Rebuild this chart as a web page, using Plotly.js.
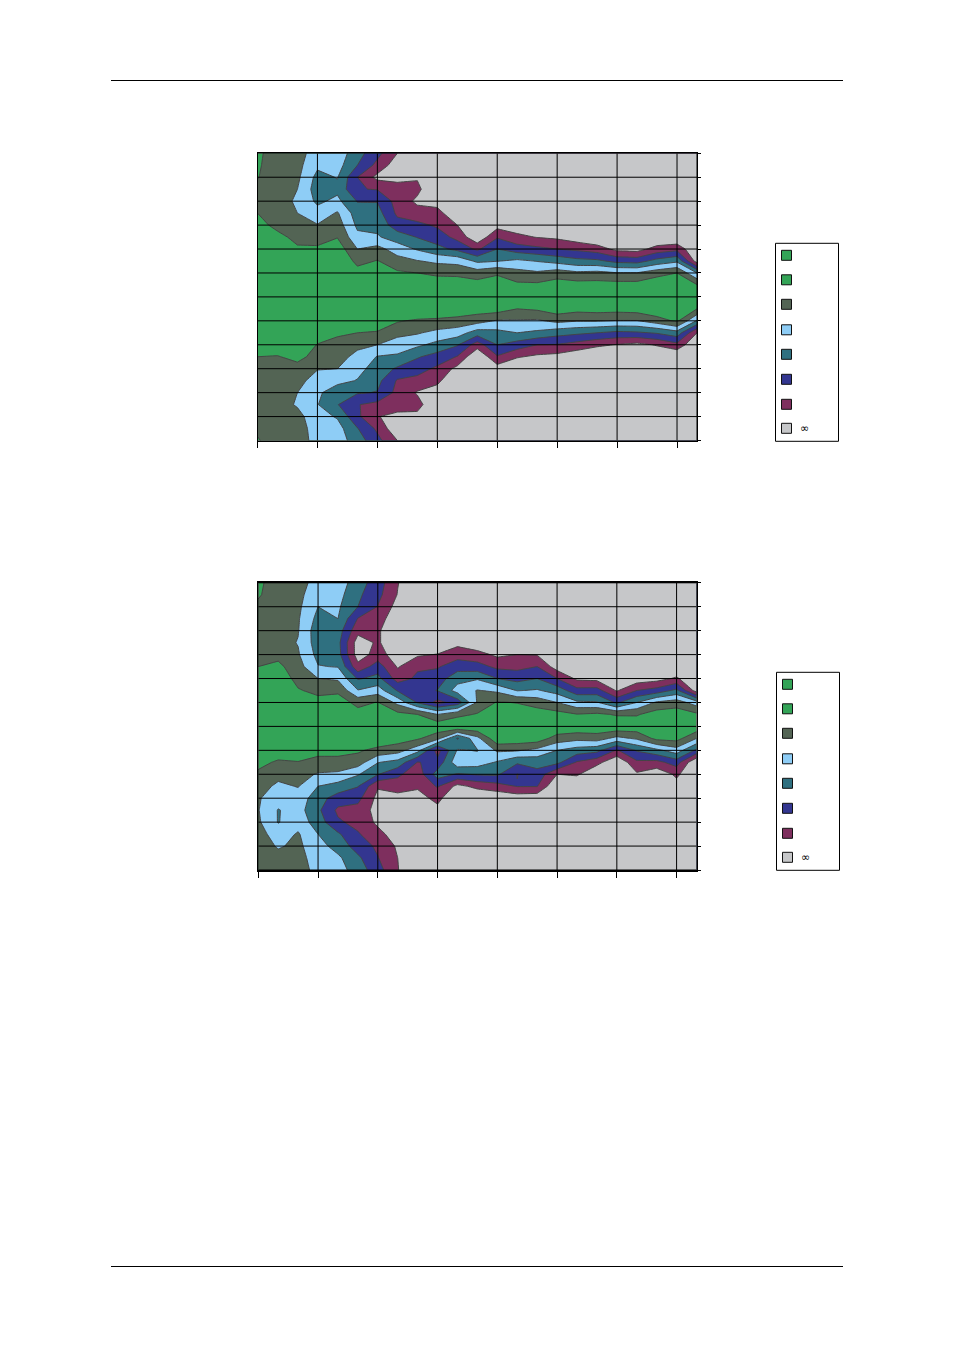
<!DOCTYPE html>
<html>
<head>
<meta charset="utf-8">
<script src="https://cdn.plot.ly/plotly-3.0.1.min.js"></script>
<style>html,body{margin:0;padding:0;background:#fff}#c{width:954px;height:1350px}</style>
</head>
<body>
<div id="c"></div>
<script>
var xCols=[0,1,2,3,4,5,6,7,8,9,10,11,12,13,14,15,16,17,18,19,20,21,22];
var yRows=[0,1,2,3,4,5,6,7,8,9,10,11,12,13,14,15,16,17,18,19,20,21,22,23,24];
var xTicks=[0,3,6,9,12,15,18,21];
var xGrid=[0,3,6,9,12,15,18,21,22];
var yTicks=[0,2,4,6,8,10,12,14,16,18,20,22,24];
var bandColors=['#33a457','#536454','#8ecdf6','#2f7080','#333690','#7e2f5e','#c6c7c9'];
var legendColors=['#33a457','#33a457','#536454','#8ecdf6','#2f7080','#333690','#7e2f5e','#c6c7c9'];
var legendLast='∞';

// contour heights, one list per column, read top to bottom
var zUpper=[
[.8,.85,.95,1.2,1.3,1.0,.5,0,0,0,0,0,0,0,0,0,.5,1.0,1.3,1.5,1.5,1.5,1.4,1.2,.9],
[1.5,1.6,1.6,1.6,1.6,1.6,1.4,.6,0,0,0,0,0,0,0,0,.5,1.05,1.5,1.6,1.6,1.6,1.6,1.6,1.6],
[1.6,1.7,1.8,2.0,2.15,2.0,1.7,1.4,.8,0,0,0,0,0,0,0,.2,.75,1.3,1.7,2.0,2.1,1.7,1.6,1.6],
[2.5,2.8,3.3,3.5,3.2,2.6,1.95,1.5,.8,0,0,0,0,0,0,.4,1.05,1.3,1.95,2.4,2.8,2.95,2.6,2.4,2.3],
[2.4,2.6,2.95,3.25,2.75,1.9,1.5,1.05,.4,0,0,0,0,0,.3,.85,1.3,1.6,2.0,2.7,3.6,3.95,3.1,2.6,2.5],
[3.6,4.0,5.0,4.95,4.05,3.5,3.2,2.75,2.0,1.3,.6,.1,0,0,.5,1.0,1.75,2.3,2.7,3.05,3.9,4.95,4.8,3.95,3.5],
[4.7,5.3,6.3,5.05,4.05,3.6,3.25,2.9,1.65,.95,.3,0,0,0,.3,1.1,2.0,3.05,3.4,3.7,4.05,5.3,5.95,5.2,4.7],
[6.0,6.6,6.3,5.6,5.4,5.2,4.6,3.45,2.5,1.6,.85,.2,0,0,.9,1.7,2.5,3.15,4.15,5.1,5.3,5.5,6.3,6.8,6.0],
[7,6.8,6.1,5.75,6.2,5.6,4.75,4.05,3.1,1.95,1.0,.3,0,0,1.15,1.9,2.8,3.9,4.6,5.3,6.1,5.6,6.3,7,7],
[7,7,7,7,6.4,5.65,5.15,4.5,3.7,2.2,1.25,.3,0,.2,1.2,2.3,3.3,4.4,5.2,5.75,6.5,7,7,7,7],
[7,7,7,7,7,6.8,6.0,5.3,4.25,2.3,1.3,.3,0,.2,1.4,2.5,3.9,5.05,6.3,7,7,7,7,7,7],
[7,7,7,7,7,7,7,6.8,5.2,3.2,1.5,.6,0,.5,1.6,3.5,5.5,7,7,7,7,7,7,7,7],
[7,7,7,7,7,7,6.4,5.1,4.0,3.05,1.15,.4,0,.5,2.1,3.3,4.0,5.1,6.5,7,7,7,7,7,7],
[7,7,7,7,7,7,6.6,5.75,4.5,2.8,1.65,.8,.2,1.0,2.1,3.0,4.45,5.9,7,7,7,7,7,7,7],
[7,7,7,7,7,7,6.9,6.05,4.75,3.05,1.85,.8,.2,.85,2.15,3.2,5.0,6.2,7,7,7,7,7,7,7],
[7,7,7,7,7,7,7,6.2,5.0,3.35,1.5,.5,0,.4,1.75,3.6,5.05,6.35,7,7,7,7,7,7,7],
[7,7,7,7,7,7,7,6.6,5.2,3.7,1.8,.6,.1,.65,1.95,3.8,5.4,6.7,7,7,7,7,7,7,7],
[7,7,7,7,7,7,7,7,5.5,3.8,1.7,.6,.1,.55,1.95,4.0,5.8,7,7,7,7,7,7,7,7],
[7,7,7,7,7,7,7,7,6.3,4.3,1.95,.6,.1,.6,2.05,4.25,6.05,7,7,7,7,7,7,7,7],
[7,7,7,7,7,7,7,7,6.4,4.4,1.95,.6,.1,.5,2.05,4.15,6.3,7,7,7,7,7,7,7,7],
[7,7,7,7,7,7,7,7,5.6,3.65,1.4,.2,0,.1,1.5,3.9,5.9,7,7,7,7,7,7,7,7],
[7,7,7,7,7,7,7,7,5.3,3.2,1.0,.2,0,0,.8,3.4,5.3,7,7,7,7,7,7,7,7],
[7,7,7,7,7,7,7,7,7,6.5,3.0,.95,.3,1.0,3.1,6.0,7,7,7,7,7,7,7,7,7]
];
var zLower=[
[.8,.9,1.2,1.4,1.5,1.5,1.3,1.0,.4,0,0,0,0,0,.3,.7,1.2,1.6,1.9,1.95,1.85,1.6,1.5,1.5,1.5],
[1.5,1.5,1.6,1.6,1.6,1.6,1.3,.75,.2,0,0,0,0,0,.4,1.15,1.7,2.2,2.6,3.05,3.05,2.5,2.1,1.7,1.6],
[1.6,1.7,1.8,1.9,1.95,2.05,1.9,1.6,1.4,.9,.3,0,0,0,.3,1.05,1.6,1.95,2.4,2.6,2.4,1.9,1.8,1.7,1.6],
[2.4,2.7,3.0,3.3,3.6,3.5,3.3,2.95,2.0,1.3,.6,.1,0,0,.7,1.3,2.1,3.0,3.6,3.8,3.5,3.0,2.6,2.4,2.3],
[2.45,2.65,2.85,3.0,3.5,3.7,3.6,3.05,2.15,1.2,.5,0,0,0,.7,1.3,2.2,3.4,4.45,5.2,4.85,3.85,3.4,2.8,2.6],
[3.55,3.8,4.0,5.05,5.7,6.5,6.5,5.7,4.1,2.95,1.3,.6,.1,0,.85,1.5,2.9,3.95,4.7,5.35,5.3,4.9,4.45,3.8,3.45],
[4.5,4.7,5.05,5.6,5.85,5.85,5.6,4.5,3.7,2.5,.95,.4,0,.2,1.3,2.95,3.95,5.9,6.3,6.4,6.2,5.7,5.2,4.95,4.6],
[5.95,6.05,6.4,6.6,6.9,6.9,6.5,6.1,5.45,4.1,2.3,.7,.1,.5,1.6,3.35,4.8,5.5,6.4,6.8,6.9,6.5,6.15,6.0,5.95],
[7,7,7,7,7,6.9,6.15,5.15,4.8,4.5,4.1,1.0,.3,.85,2.65,5.05,5.6,5.85,6.4,7,7,7,7,7,7],
[7,7,7,7,7,6.9,5.95,5.1,4.5,3.95,5.3,2.0,.3,1.65,5.4,4.7,3.5,4.9,5.7,6.3,7,7,7,7,7],
[7,7,7,7,7,6.3,5.4,4.45,3.35,2.6,4.6,1.3,0,4.1,2.9,2.3,4.1,6.3,7,7,7,7,7,7,7],
[7,7,7,7,7,6.7,5.65,4.6,3.1,1.95,1.9,.9,.1,2.3,3.05,2.5,3.9,5.7,7,7,7,7,7,7,7],
[7,7,7,7,7,7,6.2,5.25,4.0,2.2,.9,.1,0,.2,1.85,3.1,3.85,5.4,6.8,7,7,7,7,7,7],
[7,7,7,7,7,7,6.0,5.3,4.35,3.05,1.05,.3,0,.3,1.9,3.85,5.03,4.95,6.6,7,7,7,7,7,7],
[7,7,7,7,7,7,6.05,5.0,4.0,2.9,1.4,.5,0,.4,2.3,3.6,4.35,4.95,6.7,7,7,7,7,7,7],
[7,7,7,7,7,7,7,6.5,5.0,3.4,2.0,.6,.1,1.45,3.0,3.7,6.0,7,7,7,7,7,7,7,7],
[7,7,7,7,7,7,7,7,6.2,4.65,2.8,.95,.2,1.7,3.45,5.1,5.85,7,7,7,7,7,7,7,7],
[7,7,7,7,7,7,7,7,6.3,4.6,2.9,.8,.2,1.55,3.7,5.65,7,7,7,7,7,7,7,7,7],
[7,7,7,7,7,7,7,7,7,6.1,4.2,1.1,.2,2.3,5.1,6.9,7,7,7,7,7,7,7,7,7],
[7,7,7,7,7,7,7,7,6.6,5.0,3.0,1.1,.3,1.85,3.9,5.2,6.15,7,7,7,7,7,7,7,7],
[7,7,7,7,7,7,7,7,6.4,4.6,1.85,.5,0,.7,3.25,5.3,6.7,7,7,7,7,7,7,7,7],
[7,7,7,7,7,7,7,7,5.85,3.75,1.5,.4,0,.6,2.45,4.55,5.8,6.4,7,7,7,7,7,7,7],
[7,7,7,7,7,7,7,7,7,6.5,2.5,.8,.2,2.0,4.2,7,7,7,7,7,7,7,7,7,7]
];

var W=954,H=1350;
function px(x){return x/W;}
function py(y){return 1-y/H;}
var scale=bandColors.map(function(c,i){return [i/(bandColors.length-1),c];});
function contour(z,xa,ya){
  return {type:'contour',z:z,x:xCols,y:yRows,transpose:true,xaxis:xa,yaxis:ya,
    autocontour:false,contours:{start:1,end:6,size:1,coloring:'fill',showlines:true},
    colorscale:scale,showscale:false,line:{color:'#454545',width:1,smoothing:0},hoverinfo:'skip'};
}
function xAxis(dom,anchor,lw){
  return {domain:dom,range:[0,22],anchor:anchor,showgrid:false,zeroline:false,showticklabels:false,
    tickmode:'array',tickvals:xTicks,ticks:'outside',ticklen:6,tickcolor:'#000',tickwidth:1,
    showline:true,mirror:true,linecolor:'#000',linewidth:lw,layer:'above traces'};
}
function yAxis(dom,anchor){
  return {domain:dom,range:[24,0],anchor:anchor,side:'right',showgrid:false,zeroline:false,showticklabels:false,
    tickmode:'array',tickvals:yTicks,ticks:'outside',ticklen:3,tickcolor:'#000',tickwidth:1,
    showline:true,mirror:true,linecolor:'#000',linewidth:1,layer:'above traces'};
}
var shapes=[],annotations=[];
function line(x0,y0,x1,y1){shapes.push({type:'line',xref:'paper',yref:'paper',x0:px(x0),x1:px(x1),y0:py(y0),y1:py(y1),line:{color:'#000',width:1}});}
line(111,80.5,843,80.5);
line(111,1266.5,843,1266.5);
function grid(xr,yr){
  xGrid.forEach(function(v){shapes.push({type:'line',layer:'above',xref:xr,yref:yr,x0:v,x1:v,y0:0,y1:24,line:{color:'#000',width:1}});});
  yTicks.forEach(function(v){shapes.push({type:'line',layer:'above',xref:xr,yref:yr,x0:0,x1:22,y0:v,y1:v,line:{color:'#000',width:1}});});
}
grid('x','y');grid('x2','y2');
function legend(left,top){
  shapes.push({type:'rect',xref:'paper',yref:'paper',x0:px(left),x1:px(left+63),y0:py(top),y1:py(top+198),line:{color:'#000',width:1},fillcolor:'#fff'});
  var steps=[7,31.5,56,81.5,106,131,156,180];
  legendColors.forEach(function(c,i){
    shapes.push({type:'rect',xref:'paper',yref:'paper',x0:px(left+6),x1:px(left+16),y0:py(top+steps[i]),y1:py(top+steps[i]+10),line:{color:'#111',width:1},fillcolor:c});
  });
  annotations.push({xref:'paper',yref:'paper',x:px(left+29),y:py(top+185),text:legendLast,showarrow:false,xanchor:'center',yanchor:'middle',font:{family:'DejaVu Sans',size:11,color:'#000'}});
}
legend(775.5,243.3);
legend(776.5,672.3);

var layout={width:W,height:H,margin:{l:0,r:0,t:0,b:0},paper_bgcolor:'#fff',plot_bgcolor:'#fff',showlegend:false,
  xaxis:xAxis([px(257.5),px(697)],'y',1),
  yaxis:yAxis([py(440.5),py(153.3)],'x'),
  xaxis2:xAxis([px(258.3),px(696.5)],'y2',2),
  yaxis2:yAxis([py(870),py(582.8)],'x2'),
  shapes:shapes,annotations:annotations};
Plotly.newPlot('c',[contour(zUpper,'x','y'),contour(zLower,'x2','y2')],layout,{staticPlot:true,displayModeBar:false});
</script>
</body>
</html>
